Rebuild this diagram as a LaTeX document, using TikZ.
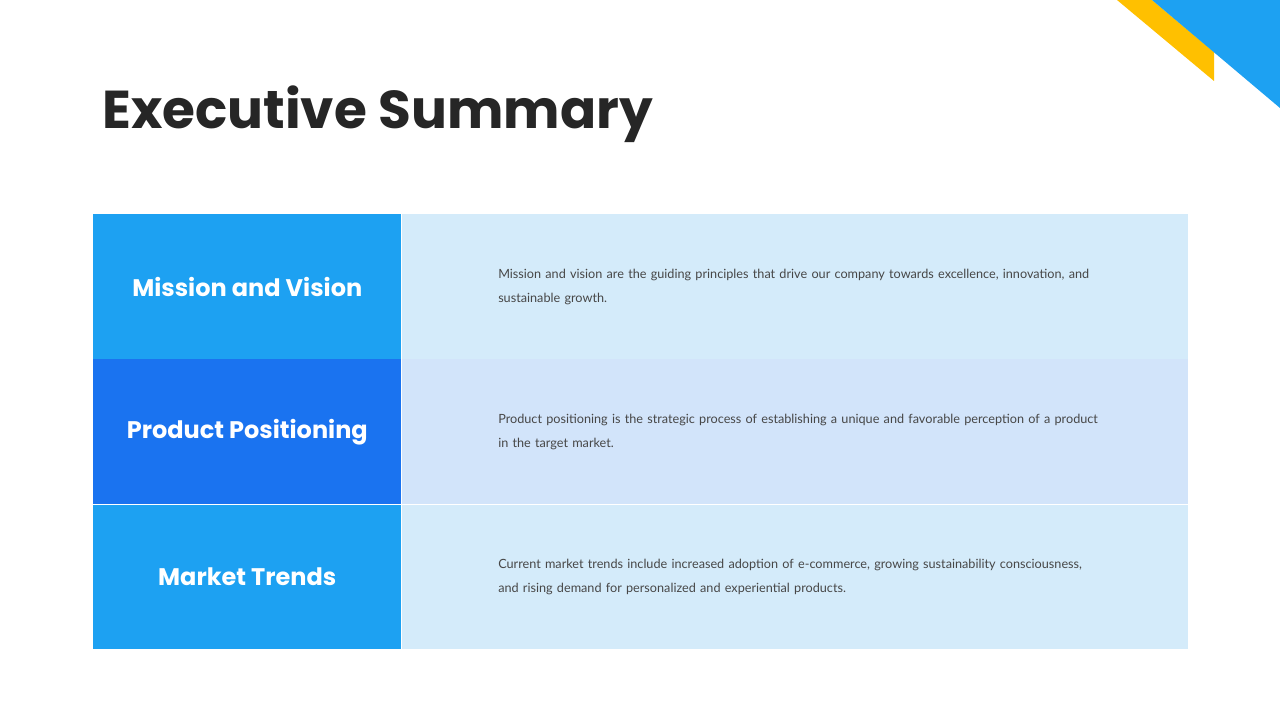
\documentclass[tikz,border=0pt]{standalone}
\usepackage{fontspec}
\setmainfont{Lato}
\newfontfamily\headfont{Poppins}
\usetikzlibrary{positioning}
\definecolor{skyblue}{HTML}{1DA1F2}
\definecolor{deepblue}{HTML}{1A73F0}
\definecolor{paleblue}{HTML}{D4EBFA}
\definecolor{palerblue}{HTML}{D2E4FA}
\definecolor{accent}{HTML}{FFC000}
\definecolor{ink}{HTML}{262626}
\tikzset{
  labelbox/.style={fill=#1, minimum width=231pt, minimum height=108.5pt, inner sep=0pt,
    text=white, font=\headfont\bfseries\fontsize{18}{22}\selectfont},
  textbox/.style={fill=#1, minimum width=589.5pt, minimum height=108.5pt, inner sep=0pt},
  bodytext/.style={text width=450pt, align=left, text=ink!85,
    font=\fontsize{9.5}{18}\selectfont}
}
\begin{document}
\begin{tikzpicture}[x=0.75pt,y=-0.75pt]
    \useasboundingbox (0,0) rectangle (1280,720);
    \fill[white] (0,0) rectangle (1280,720);
    % corner shapes
    \fill[accent] (1117,0) -- (1152,0) -- (1214,52) -- (1214,81) -- cycle;
    \fill[skyblue] (1152,0) -- (1280,0) -- (1280,108) -- cycle;

    \node[anchor=base west, text=ink, font=\headfont\bfseries\fontsize{40}{48}\selectfont, inner sep=0pt]
        (title) at (102,129) {Executive Summary};

    \node[labelbox=skyblue, anchor=north west] (mission) at (93,214) {Mission and Vision};
    \node[labelbox=deepblue, below=0pt of mission] (product) {Product Positioning};
    \node[labelbox=skyblue, below=0pt of product] (market) {Market Trends};

    \node[textbox=paleblue, right=0pt of mission] (missiontxt) {};
    \node[textbox=palerblue, right=0pt of product] (producttxt) {};
    \node[textbox=paleblue, right=0pt of market] (markettxt) {};

    \node[bodytext, anchor=west] at ([xshift=69pt]missiontxt.west)
        {Mission and vision are the guiding principles that drive our company towards excellence, innovation, and sustainable growth.};
    \node[bodytext, anchor=west] at ([xshift=69pt]producttxt.west)
        {Product positioning is the strategic process of establishing a unique and favorable perception of a product in the target market.};
    \node[bodytext, anchor=west] at ([xshift=69pt]markettxt.west)
        {Current market trends include increased adoption of e-commerce, growing sustainability consciousness, and rising demand for personalized and experiential products.};
\end{tikzpicture}
\end{document}
